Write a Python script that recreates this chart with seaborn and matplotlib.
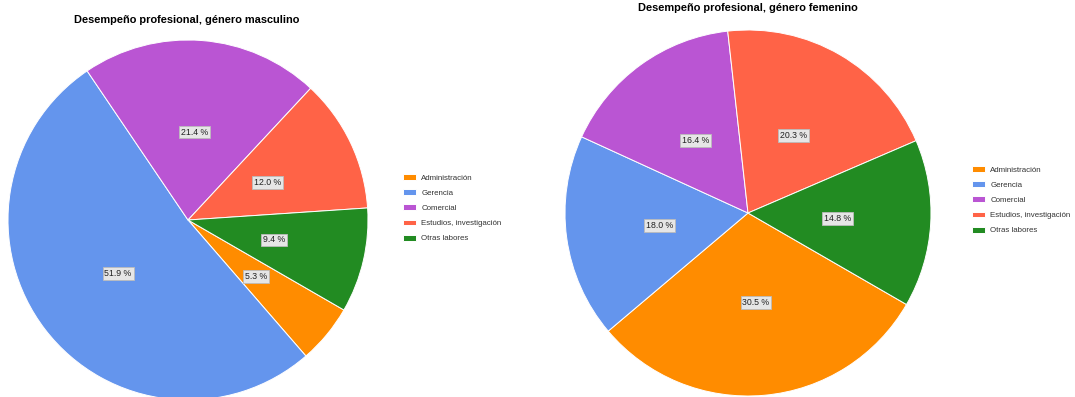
import matplotlib
matplotlib.use("Agg")
import matplotlib.pyplot as plt
import seaborn as sns

categories = ["Administración", "Gerencia", "Comercial", "Estudios, investigación", "Otras labores"]
masculino = [5.3, 51.9, 21.4, 12.0, 9.4]
femenino = [30.5, 18.0, 16.4, 20.3, 14.8]
titles = ["Desempeño profesional, género masculino", "Desempeño profesional, género femenino"]
colors = ["#FF8C00", "#6495ED", "#BA55D3", "#FF6347", "#228B22"]

sns.set_theme(style="white")
plt.rcParams['font.family'] = ['Liberation Sans', 'DejaVu Sans']

W, H = 1075, 397
fig = plt.figure(figsize=(W / 100, H / 100), dpi=100)

def px_axes(cx, cy, r):
    return fig.add_axes([(cx - r) / W, (H - cy - r) / H, 2 * r / W, 2 * r / H])

def draw(cx, cy, r, values, title, tx, ty, lx, ly):
    ax = px_axes(cx, cy, r)
    wedges, texts, autotexts = ax.pie(
        values, colors=colors, startangle=-30, counterclock=False,
        autopct="%.1f %%", pctdistance=0.49, radius=1.0,
        wedgeprops=dict(edgecolor="white", linewidth=0.7),
        textprops=dict(fontsize=6.3, color="#222222"))
    for t in autotexts:
        t.set_bbox(dict(boxstyle="square,pad=0.22", facecolor="#e6e6e6",
                        edgecolor="#bbbbbb", linewidth=0.6))
    ax.set_xlim(-1, 1)
    ax.set_ylim(-1, 1)
    ax.set_aspect("equal")
    ax.axis("off")
    fig.text(tx / W, 1 - ty / H, title, ha="center", va="center",
             fontsize=7.95, fontweight="bold", color="black")
    fs = 5.7
    fig.legend(wedges, categories, loc="upper left",
               bbox_to_anchor=(lx / W, 1 - ly / H), bbox_transform=fig.transFigure,
               frameon=False, fontsize=fs, handlelength=13 / (fs * 100 / 72),
               handleheight=6 / (fs * 100 / 72),
               handletextpad=0.65, labelspacing=0.95, borderpad=0, borderaxespad=0,
               labelcolor="#333333")

draw(188, 220, 180, masculino, titles[0], 187, 20, 403, 174)
draw(748, 213, 183, femenino, titles[1], 748, 8, 972, 166)

fig.savefig("out.png", dpi=100)
